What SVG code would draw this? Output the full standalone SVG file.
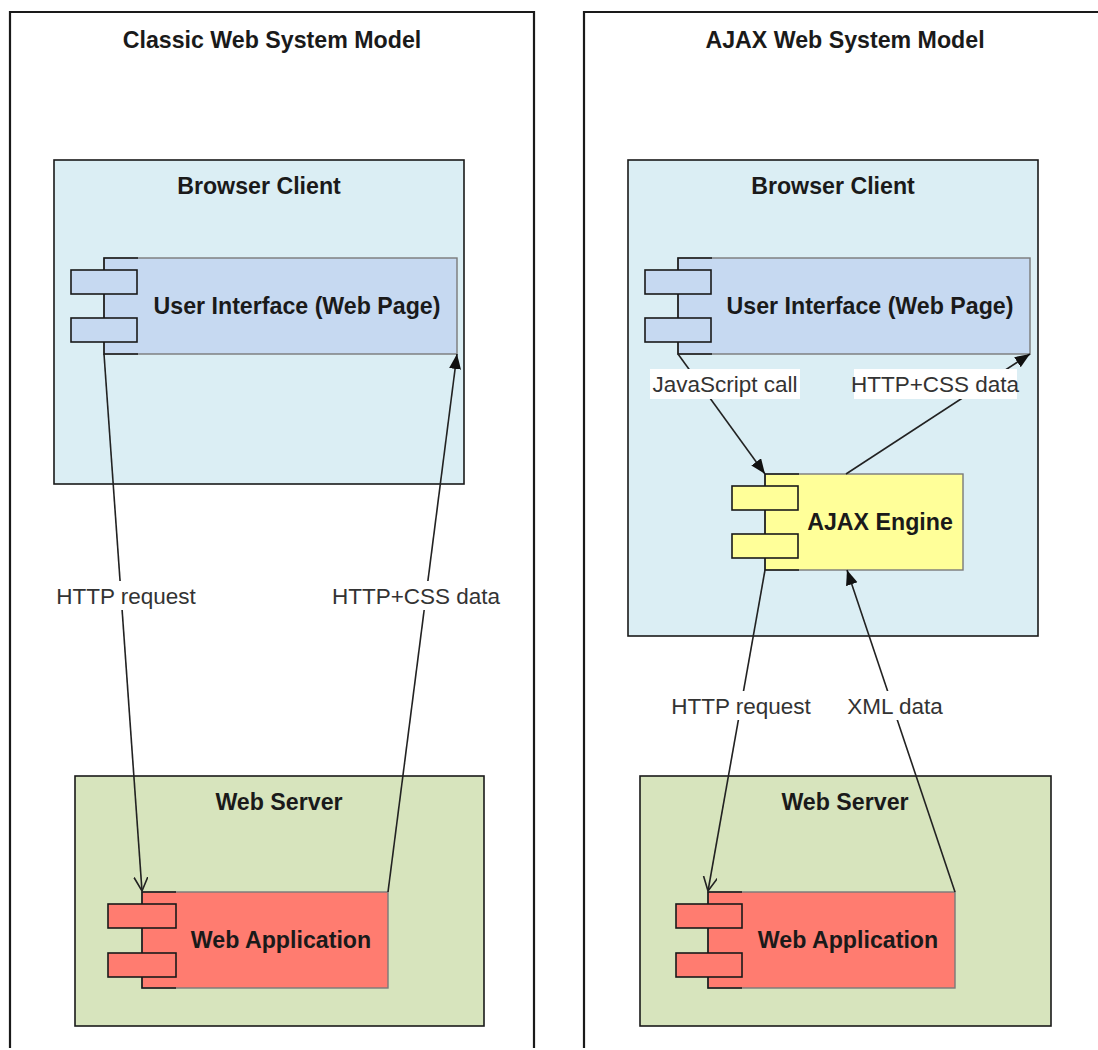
<svg xmlns="http://www.w3.org/2000/svg" width="1098" height="1050" viewBox="0 0 1098 1050">
<defs>
<style>
.frame{fill:none;stroke:#1a1a1a;stroke-width:2.2}
.cont{stroke:#1a1a1a;stroke-width:1.6}
.browser{fill:#DBEEF4}
.server{fill:#D7E4BD}
.body{stroke:#7a7a7a;stroke-width:1.4}
.edge{fill:none;stroke:#1a1a1a;stroke-width:1.6}
.tab{stroke:#1a1a1a;stroke-width:1.6}
.ui{fill:#C6D9F1}
.app{fill:#FF7C70}
.ajax{fill:#FFFF99}
.title{font-family:"Liberation Sans",Arial,sans-serif;font-weight:bold;font-size:23.2px;fill:#1a1a1a;text-anchor:middle}
.label{font-family:"Liberation Sans",Arial,sans-serif;font-size:22.5px;fill:#333;text-anchor:middle}
.conn{fill:none;stroke:#222;stroke-width:1.6}
.lbg{fill:#fff}
</style>
<marker id="filled" markerUnits="userSpaceOnUse" markerWidth="18" markerHeight="14" refX="15" refY="6" orient="auto">
<path d="M0,0 L15,6 L0,12 z" fill="#111"/>
</marker>
<marker id="open" markerUnits="userSpaceOnUse" markerWidth="18" markerHeight="16" refX="14" refY="7" orient="auto">
<path d="M0,0 L14,7 L0,14" fill="none" stroke="#222" stroke-width="1.6"/>
</marker>
</defs>
<rect width="1098" height="1050" fill="#fff"/>

<g id="classic-frame">
<path class="frame" d="M10,1048 V12 H534 V1048"/>
<text class="title" x="272" y="48">Classic Web System Model</text>
</g>
<g id="ajax-frame">
<path class="frame" d="M584,1048 V12 H1100"/>
<text class="title" x="845" y="48">AJAX Web System Model</text>
</g>

<g id="classic-browser">
<rect class="browser cont" x="54" y="160" width="410" height="324"/>
<text class="title" x="259" y="194">Browser Client</text>
</g>
<g id="ajax-browser">
<rect class="browser cont" x="628" y="160" width="410" height="476"/>
<text class="title" x="833" y="194">Browser Client</text>
</g>
<g id="classic-server">
<rect class="server cont" x="75" y="776" width="409" height="250"/>
<text class="title" x="279" y="810">Web Server</text>
</g>
<g id="ajax-server">
<rect class="server cont" x="640" y="776" width="411" height="250"/>
<text class="title" x="845" y="810">Web Server</text>
</g>

<g id="classic-ui">
<rect class="ui body" x="104" y="258" width="353" height="96"/>
<path class="edge" d="M138,258 H104 V354 H138"/>
<rect class="ui tab" x="71" y="270" width="66" height="24"/>
<rect class="ui tab" x="71" y="318" width="66" height="24"/>
<text class="title" x="297" y="314">User Interface (Web Page)</text>
</g>
<g id="ajax-ui">
<rect class="ui body" x="678" y="258" width="352" height="96"/>
<path class="edge" d="M712,258 H678 V354 H712"/>
<rect class="ui tab" x="645" y="270" width="66" height="24"/>
<rect class="ui tab" x="645" y="318" width="66" height="24"/>
<text class="title" x="870" y="314">User Interface (Web Page)</text>
</g>
<g id="ajax-engine">
<rect class="ajax body" x="765" y="474" width="198" height="96"/>
<path class="edge" d="M799,474 H765 V570 H799"/>
<rect class="ajax tab" x="732" y="486" width="66" height="24"/>
<rect class="ajax tab" x="732" y="534" width="66" height="24"/>
<text class="title" x="880" y="530">AJAX Engine</text>
</g>
<g id="classic-app">
<rect class="app body" x="142" y="892" width="246" height="96"/>
<path class="edge" d="M176,892 H142 V988 H176"/>
<rect class="app tab" x="108" y="904" width="68" height="24"/>
<rect class="app tab" x="108" y="953" width="68" height="24"/>
<text class="title" x="281" y="948">Web Application</text>
</g>
<g id="ajax-app">
<rect class="app body" x="708" y="892" width="247" height="96"/>
<path class="edge" d="M742,892 H708 V988 H742"/>
<rect class="app tab" x="676" y="904" width="66" height="24"/>
<rect class="app tab" x="676" y="953" width="66" height="24"/>
<text class="title" x="848" y="948">Web Application</text>
</g>

<g id="connectors">
<line class="conn" x1="104" y1="354" x2="142" y2="891" marker-end="url(#open)"/>
<line class="conn" x1="388" y1="892" x2="457" y2="354" marker-end="url(#filled)"/>
<line class="conn" x1="678" y1="354" x2="765" y2="474" marker-end="url(#filled)"/>
<line class="conn" x1="846" y1="474" x2="1030" y2="354" marker-end="url(#filled)"/>
<line class="conn" x1="765" y1="570" x2="708" y2="891" marker-end="url(#open)"/>
<line class="conn" x1="955" y1="892" x2="847" y2="570" marker-end="url(#filled)"/>

<rect class="lbg" x="50" y="581" width="152" height="29"/>
<text class="label" x="126" y="604">HTTP request</text>
<rect class="lbg" x="333" y="581" width="166" height="29"/>
<text class="label" x="416" y="604">HTTP+CSS data</text>
<rect class="lbg" x="650" y="369" width="150" height="30"/>
<text class="label" x="725" y="392">JavaScript call</text>
<rect class="lbg" x="854" y="369" width="163" height="30"/>
<text class="label" x="935" y="392">HTTP+CSS data</text>
<rect class="lbg" x="666" y="691" width="150" height="29"/>
<text class="label" x="741" y="714">HTTP request</text>
<rect class="lbg" x="842" y="691" width="106" height="29"/>
<text class="label" x="895" y="714">XML data</text>
</g>
</svg>
